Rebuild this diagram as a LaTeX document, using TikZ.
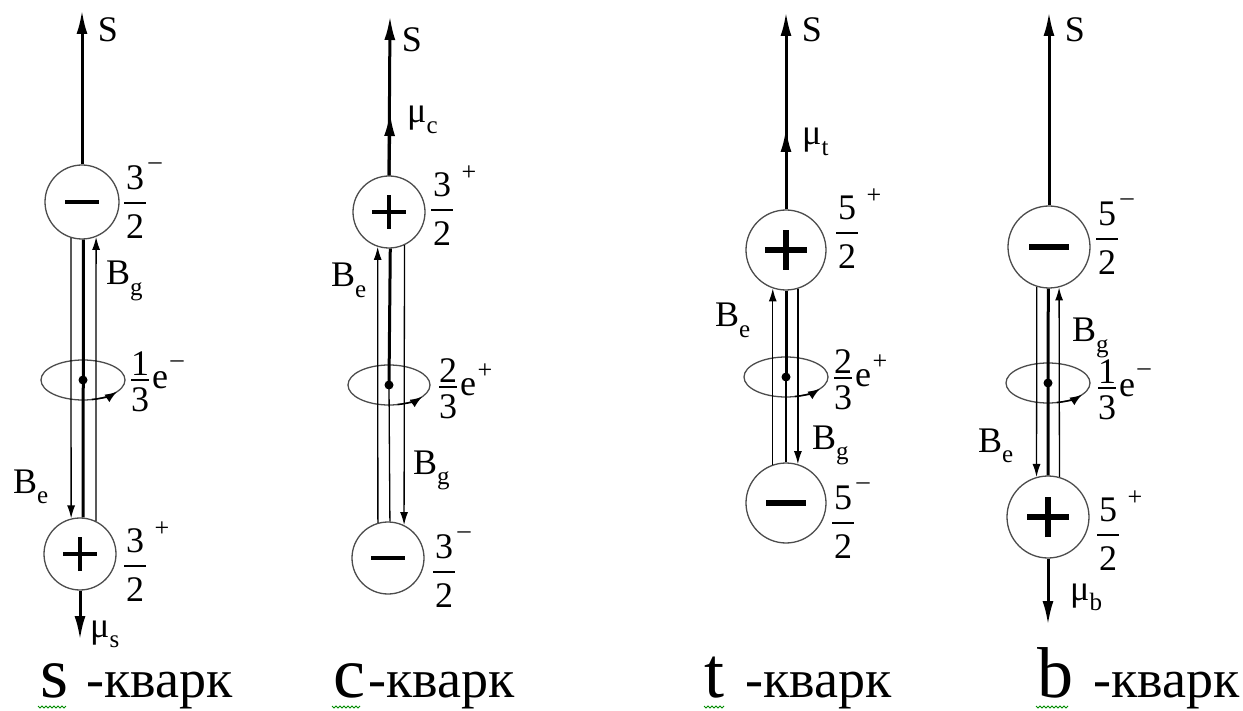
\documentclass[tikz,border=0pt]{standalone}
\usepackage{fontspec}
\newfontfamily\lserif{Liberation Serif}
\usetikzlibrary{arrows.meta}
\newcommand{\lsub}[1]{\raisebox{-0.3em}{\lserif\fontsize{25}{25}\selectfont #1}}
\tikzset{
  ball/.style={circle,draw=black!70,line width=1.3pt,fill=white,inner sep=0pt,minimum size=#1},
  axline/.style={line width=3pt},
  fline/.style={line width=1.3pt},
  bigtip/.style={-{Latex[length=24pt,width=11pt]}},
  smtip/.style={-{Latex[length=13pt,width=8pt]}},
  lab/.style={inner sep=0pt,font=\lserif\fontsize{36}{36}\selectfont},
  suplab/.style={inner sep=0pt,font=\lserif\fontsize{26}{26}\selectfont},
  sgnS/.style={line width=3.5pt},
  sgnL/.style={line width=5.5pt},
  ell/.style={draw=black!70,line width=1.3pt},
  rotarr/.style={draw=black,line width=1.5pt,-{Latex[length=12pt,width=9pt]}},
  qlet/.style={anchor=base west,inner sep=0pt,font=\lserif\fontsize{72}{72}\selectfont},
  qword/.style={anchor=base west,inner sep=0pt,font=\lserif\fontsize{54}{54}\selectfont},
  squig/.style={draw=green!55!black,line width=0.8pt},
  pics/frm/.style n args={2}{code={
     \node[lab] (-n) at (0,-25) {#1};
     \draw[line width=1.4pt] (-11,0) -- (11,0);
     \node[lab] (-d) at (0,24) {#2};
     \node[suplab] (-s) at (20,-37) {–};}},
  pics/frp/.style n args={2}{code={
     \node[lab] (-n) at (0,-25) {#1};
     \draw[line width=1.4pt] (-11,0) -- (11,0);
     \node[lab] (-d) at (0,24) {#2};
     \node[suplab] (-s) at (27,-37) {+};}},
  pics/efr/.style n args={2}{code={
     \node[lab] (-n) at (0,-16) {#1};
     \draw[line width=1.4pt] (-9,0) -- (9,0);
     \node[lab] (-d) at (0,20) {3};
     \node[lab] (-e) at (20,0) {e};
     \node[suplab] (-s) at (37,-16) {#2};}},
}
\begin{document}
\begin{tikzpicture}[x=1pt,y=-1pt]
\useasboundingbox (0,0) rectangle (1243,711);

% ---------------- panel 1: s-quark
\node[ball=74pt] (T1) at (82,202) {};
\node[ball=72pt] (B1) at (80,554) {};
\coordinate (S1) at (82,10);
\coordinate (Mu1) at (80,640);
\coordinate (E1) at (83,380);
\draw[ell] (E1) ellipse[x radius=42,y radius=20];
\draw[axline,bigtip] (T1.north) -- (S1);
\draw[axline] (T1.272) -- (B1.85);
\draw[fline,smtip] (T1.253) -- (B1.104);
\draw[fline,smtip] (B1.64) -- (T1.292);
\draw[axline,bigtip] (B1.south) -- (Mu1);
\fill (E1) circle[radius=4.5];
\draw[rotarr] ([shift={(78:42 and 20)}]E1) arc[start angle=78,end angle=36,x radius=42,y radius=20];
\draw[sgnS] ([xshift=-17pt]T1.center) -- ([xshift=17pt]T1.center);
\draw[sgnS] ([xshift=-17pt]B1.center) -- ([xshift=17pt]B1.center);
\draw[sgnS] ([yshift=-17pt]B1.center) -- ([yshift=17pt]B1.center);
\node[lab] (s1) at (108,30) {S};
\pic (f1a) at (135,203) {frm={3}{2}};
\node[lab,anchor=base west] (bg1) at (106,285) {B\lsub{g}};
\pic (f1e) at (140,380) {efr={1}{–}};
\node[lab,anchor=base west] (be1) at (13,493) {B\lsub{e}};
\pic (f1b) at (135,566) {frp={3}{2}};
\node[lab,anchor=base west] (mu1) at (90,637) {μ\lsub{s}};
\node[qlet] (q1) at (40,697) {s};
\node[qword] (k1) at (86,697) {-кварк};
\draw[squig] (38,706) \foreach \i in {1,...,7} { -- ++(2,2) -- ++(2,-2)};

% ---------------- panel 2: c-quark
\node[ball=72pt] (T2) at (389,212) {};
\node[ball=72pt] (B2) at (388,558) {};
\coordinate (S2) at (390,16);
\coordinate (Mu2) at (390,112);
\coordinate (E2) at (389,385);
\draw[ell] (E2) ellipse[x radius=41,y radius=20];
\draw[axline,bigtip] (T2.north) -- (S2);
\draw[axline,bigtip] (T2.north) -- (Mu2);
\draw[axline] (T2.272) -- (E2);
\draw[fline] (E2) -- (B2.87);
\draw[fline,smtip] (B2.106) -- (T2.252);
\draw[fline,smtip] (T2.295) -- (B2.64);
\fill (E2) circle[radius=4.5];
\draw[rotarr] ([shift={(78:41 and 20)}]E2) arc[start angle=78,end angle=36,x radius=41,y radius=20];
\draw[sgnS] ([xshift=-17pt]T2.center) -- ([xshift=17pt]T2.center);
\draw[sgnS] ([yshift=-17pt]T2.center) -- ([yshift=17pt]T2.center);
\draw[sgnS] ([xshift=-17pt]B2.center) -- ([xshift=17pt]B2.center);
\node[lab] (s2) at (412,40) {S};
\node[lab,anchor=base west] (mu2) at (407,123) {μ\lsub{c}};
\pic (f2a) at (442,210) {frp={3}{2}};
\node[lab,anchor=base west] (be2) at (331,287) {B\lsub{e}};
\pic (f2e) at (448,387) {efr={2}{+}};
\node[lab,anchor=base west] (bg2) at (413,474) {B\lsub{g}};
\pic (f2b) at (444,572) {frm={3}{2}};
\node[qlet] (q2) at (333,697) {c};
\node[qword] (k2) at (368,697) {-кварк};
\draw[squig] (332,706) \foreach \i in {1,...,7} { -- ++(2,2) -- ++(2,-2)};

% ---------------- panel 3: t-quark
\node[ball=80pt] (T3) at (786,250) {};
\node[ball=80pt] (B3) at (786,503) {};
\coordinate (S3) at (786,12);
\coordinate (Mu3) at (786,128);
\coordinate (E3) at (786,377);
\draw[ell] (E3) ellipse[x radius=42,y radius=20];
\draw[axline,bigtip] (T3.north) -- (S3);
\draw[axline,bigtip] (T3.north) -- (Mu3);
\draw[axline] (T3.south) -- (E3);
\draw[fline] (E3) -- (B3.north);
\draw[fline,smtip] (B3.109) -- (T3.251);
\draw[fline,smtip] (T3.287) -- (B3.73);
\fill (E3) circle[radius=4.5];
\draw[rotarr] ([shift={(78:42 and 20)}]E3) arc[start angle=78,end angle=36,x radius=42,y radius=20];
\draw[sgnL] ([xshift=-21pt]T3.center) -- ([xshift=21pt]T3.center);
\draw[sgnL] ([yshift=-20pt]T3.center) -- ([yshift=20pt]T3.center);
\draw[sgnL] ([xshift=-20pt]B3.center) -- ([xshift=20pt]B3.center);
\node[lab] (s3) at (812,30) {S};
\node[lab,anchor=base west] (mu3) at (802,145) {μ\lsub{t}};
\pic (f3a) at (847,233) {frp={5}{2}};
\node[lab,anchor=base west] (be3) at (715,327) {B\lsub{e}};
\pic (f3e) at (843,378) {efr={2}{+}};
\node[lab,anchor=base west] (bg3) at (812,449) {B\lsub{g}};
\pic (f3b) at (843,523) {frm={5}{2}};
\node[qlet] (q3) at (704,697) {t};
\node[qword] (k3) at (745,697) {-кварк};
\draw[squig] (704,706) \foreach \i in {1,...,5} { -- ++(2,2) -- ++(2,-2)};

% ---------------- panel 4: b-quark
\node[ball=82pt] (T4) at (1049,247) {};
\node[ball=82pt] (B4) at (1048,517) {};
\coordinate (S4) at (1049,12);
\coordinate (Mu4) at (1048,625);
\coordinate (E4) at (1048,383);
\draw[ell] (E4) ellipse[x radius=42,y radius=20];
\draw[axline,bigtip] (T4.north) -- (S4);
\draw[axline] (T4.269) -- (B4.north);
\draw[fline,smtip] (T4.253) -- (B4.106);
\draw[fline,smtip] (B4.74) -- (T4.284);
\draw[axline,bigtip] (B4.south) -- (Mu4);
\fill (E4) circle[radius=4.5];
\draw[rotarr] ([shift={(78:42 and 20)}]E4) arc[start angle=78,end angle=36,x radius=42,y radius=20];
\draw[sgnL] ([xshift=-20pt]T4.center) -- ([xshift=20pt]T4.center);
\draw[sgnL] ([xshift=-21pt]B4.center) -- ([xshift=21pt]B4.center);
\draw[sgnL] ([yshift=-20pt]B4.center) -- ([yshift=20pt]B4.center);
\node[lab] (s4) at (1075,30) {S};
\pic (f4a) at (1107,239) {frm={5}{2}};
\node[lab,anchor=base west] (bg4) at (1072,342) {B\lsub{g}};
\pic (f4e) at (1107,388) {efr={1}{–}};
\node[lab,anchor=base west] (be4) at (978,452) {B\lsub{e}};
\pic (f4b) at (1108,535) {frp={5}{2}};
\node[lab,anchor=base west] (mu4) at (1070,600) {μ\lsub{b}};
\node[qlet] (q4) at (1037,697) {b};
\node[qword] (k4) at (1093,697) {-кварк};
\draw[squig] (1036,706) \foreach \i in {1,...,8} { -- ++(2,2) -- ++(2,-2)};
\end{tikzpicture}
\end{document}
